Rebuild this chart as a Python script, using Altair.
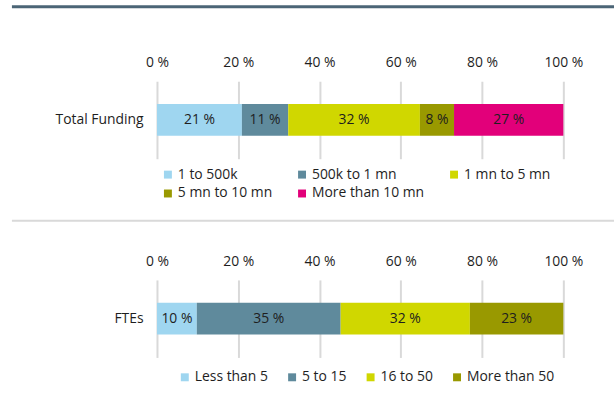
import altair as alt
import pandas as pd

# ---- data ----
fund_cats = ["1 to 500k", "500k to 1 mn", "1 mn to 5 mn", "5 mn to 10 mn", "More than 10 mn"]
fund_vals = [20.9, 11.4, 32.4, 8.4, 26.9]
fund_colors = ["#9fd6f0", "#5f8a9c", "#d0d700", "#999900", "#e2007a"]

fte_cats = ["Less than 5", "5 to 15", "16 to 50", "More than 50"]
fte_vals = [9.8, 35.4, 31.8, 23.0]
fte_colors = ["#9fd6f0", "#5f8a9c", "#d0d700", "#999900"]

tick_values = [0, 20, 40, 60, 80, 100]

FONT = "Open Sans"
FS = 14
TXT = "#1e1e1e"


def make_df(row, cats, vals):
    rows = []
    acc = 0.0
    for i, (c, v) in enumerate(zip(cats, vals)):
        rows.append({"row": row, "cat": c, "idx": i, "start": acc, "end": acc + v,
                     "mid": acc + v / 2, "label": f"{round(v)} %"})
        acc += v
    return pd.DataFrame(rows)


def panel(df, cats, colors, legend, deco_y, deco_color, deco_width):
    x_axis = alt.Axis(orient="top", values=tick_values, labelExpr="datum.value + ' %'",
                      grid=True, gridColor="#d9d9d9", gridWidth=2, ticks=False, tickSize=0,
                      domain=False, title=None, labelPadding=12, labelFontSize=FS,
                      labelFont=FONT, labelColor=TXT, labelFlush=False, labelOverlap=False)
    y_axis = alt.Axis(title=None, ticks=False, tickSize=0, domain=False, labelPadding=14,
                      labelFontSize=FS, labelFont=FONT, labelColor=TXT)
    bars = alt.Chart(df).mark_bar(size=32).encode(
        x=alt.X("start:Q", scale=alt.Scale(domain=[0, 100], nice=False), axis=x_axis),
        x2="end:Q",
        y=alt.Y("row:N", axis=y_axis),
        color=alt.Color("cat:N", scale=alt.Scale(domain=cats, range=colors), legend=legend),
        order="idx:Q",
    )
    text = alt.Chart(df).mark_text(fontSize=FS, font=FONT, color=TXT).encode(
        x="mid:Q", y="row:N", text="label:N"
    )
    deco = alt.Chart(pd.DataFrame({"d": [0]})).mark_rule(
        color=deco_color, strokeWidth=deco_width
    ).encode(x=alt.value(-146), x2=alt.value(460), y=alt.value(deco_y))
    return alt.layer(deco, bars, text).properties(width=409, height=78)


df1 = make_df("Total Funding", fund_cats, fund_vals)
df2 = make_df("FTEs", fte_cats, fte_vals)

leg1 = alt.Legend(orient="none", legendX=4, legendY=87, columns=3, direction="horizontal",
                  gridAlign="each", columnPadding=22, rowPadding=5, title=None,
                  symbolType="square", symbolSize=64, symbolStrokeWidth=0, labelOffset=3,
                  labelFontSize=FS, labelFont=FONT, labelColor=TXT, padding=0)
leg2 = alt.Legend(orient="none", legendX=21, legendY=91, direction="horizontal",
                  columnPadding=17, title=None, symbolType="square",
                  symbolSize=64, symbolStrokeWidth=0, labelOffset=3, labelFontSize=FS,
                  labelFont=FONT, labelColor=TXT, padding=0)

p1 = panel(df1, fund_cats, fund_colors, leg1, -75, "#4b6576", 3)
p2 = panel(df2, fte_cats, fte_colors, leg2, -59.5, "#d9d9d9", 2)

chart = alt.vconcat(p1, p2, spacing=122, bounds="flush").resolve_scale(
    color="independent", x="independent", y="independent"
).properties(
    padding={"left": 10, "top": 3.5, "right": 0, "bottom": 0},
    background="white",
).configure_view(stroke=None)

chart.save("out.html", embed_options={"renderer": "svg", "actions": False})
